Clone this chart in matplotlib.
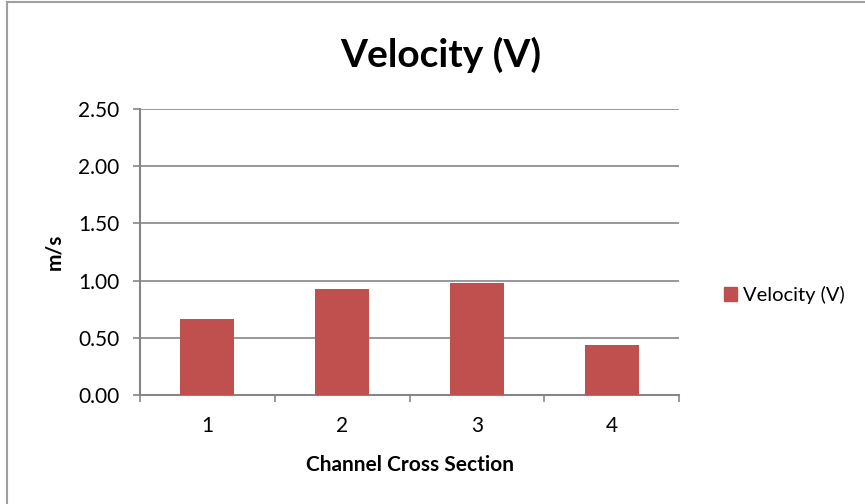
import matplotlib.pyplot as plt
from matplotlib.patches import Rectangle, Patch
import numpy as np

# data
sections = ['1', '2', '3', '4']
velocity = [0.66, 0.93, 0.98, 0.44]
y_ticks = [0.0, 0.5, 1.0, 1.5, 2.0, 2.5]

plt.rcParams['font.family'] = ['Lato', 'DejaVu Sans']
bar_color = '#C0504D'
line_gray = '#868686'

fig = plt.figure(figsize=(8.65, 5.04), dpi=100)
ax = fig.add_axes([140/865, 1-395/504, (679-140)/865, (395-109)/504])

x = np.arange(len(sections))
ax.bar(x, velocity, width=0.4, color=bar_color, zorder=3, label='Velocity (V)')

ax.set_xlim(-0.5, len(sections)-0.5)
ax.set_ylim(0, 2.5)
ax.set_yticks(y_ticks)
ax.set_yticklabels(['%.2f' % v for v in y_ticks], fontsize=15)
ax.yaxis.grid(True, color=line_gray, linewidth=1.2, zorder=0)

# category labels centred, ticks on the boundaries
ax.set_xticks(np.arange(len(sections)+1) - 0.5)
ax.set_xticklabels([''] * (len(sections)+1))
ax.set_xticks(x, minor=True)
ax.set_xticklabels(sections, minor=True, fontsize=15)
ax.tick_params(axis='x', which='minor', length=0, pad=15)
ax.tick_params(axis='x', which='major', length=5, width=1.2, color=line_gray)
ax.tick_params(axis='y', length=5, width=1.2, color=line_gray, pad=10)

for side in ['top', 'right']:
    ax.spines[side].set_visible(False)
for side in ['left', 'bottom']:
    ax.spines[side].set_color(line_gray)
    ax.spines[side].set_linewidth(1.5)

ax.set_xlabel('Channel Cross Section', fontsize=15, fontweight='bold', labelpad=14)
ax.set_ylabel('m/s', fontsize=15, fontweight='bold', labelpad=10)
fig.text(441/865, 1-55/504, 'Velocity (V)', fontsize=28, fontweight='bold',
         ha='center', va='center')

fig.legend(handles=[Patch(color=bar_color, label='Velocity (V)')],
           loc='center left', bbox_to_anchor=(714/865, 1-295/504),
           frameon=False, fontsize=14.5, handlelength=0.65, handleheight=0.65,
           handletextpad=0.3, borderpad=0)

# chart area border
fig.patches.append(Rectangle((7/865, -0.05), 1.0, 1-1/504+0.05 - 0.002,
                             transform=fig.transFigure, fill=False,
                             edgecolor='#A0A0A0', linewidth=1.5))

fig.savefig('out.png', dpi=100)
